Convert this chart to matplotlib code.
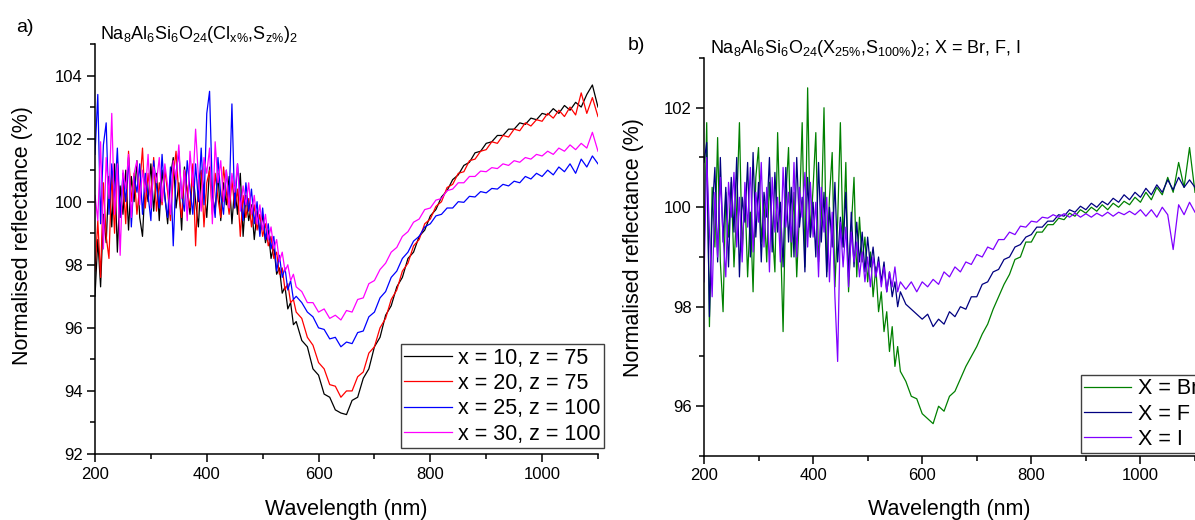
import matplotlib
matplotlib.use("Agg")
import matplotlib.pyplot as plt
from matplotlib.ticker import MultipleLocator

plt.rcParams['font.family'] = ['Liberation Sans', 'DejaVu Sans']
plt.rcParams['mathtext.default'] = 'regular'

######################### Data ############################
# wavelength grid (nm): 5 nm steps in the noisy UV part, 10 nm after
wavelength = list(range(200, 560, 5)) + list(range(560, 1101, 10))

# panel a) Na8Al6Si6O24(Clx%,Sz%)2
x10_z75 = [97.0, 98.8, 97.3, 99.6, 98.7, 100.8, 99.2, 101.2, 98.4, 100.5,
           99.6, 101.0, 99.1, 100.8, 100.0, 101.3, 99.5, 98.9, 100.7, 100.0,
           101.2, 99.7, 100.9, 99.4, 101.0, 100.2, 99.3, 100.8, 101.4, 99.8,
           100.6, 99.1, 101.1, 100.3, 99.6, 101.0, 100.0, 99.2, 100.9, 100.4,
           99.5, 101.1, 100.2, 99.7, 100.9, 99.4, 100.6, 99.9, 100.8, 99.3,
           100.5, 99.6, 100.9, 98.9, 100.2, 99.4, 99.9, 98.8, 99.7, 99.0,
           99.6, 98.7, 99.1, 98.2, 98.6, 97.7, 97.9, 97.1, 97.3, 96.6,
           96.8, 96.1,
           96.2, 95.6, 95.4, 94.7, 94.5, 93.9, 93.8, 93.4, 93.3, 93.25,
           93.7, 93.8, 94.4, 94.7, 95.4, 95.7, 96.4, 96.7, 97.3, 97.6,
           98.2, 98.4, 98.9, 99.1, 99.55, 99.75, 100.15, 100.35, 100.7, 100.85,
           101.15, 101.25, 101.55, 101.6, 101.85, 101.9, 102.1, 102.1, 102.3, 102.3,
           102.5, 102.45, 102.65, 102.6, 102.8, 102.75, 102.95, 102.8, 103.05, 102.9,
           103.15, 103.0, 103.4, 103.7, 103.0]
x20_z75 = [97.8, 99.4, 97.6, 100.6, 98.9, 98.2, 100.9, 99.0, 101.3, 99.5,
           100.7, 99.3, 101.6, 100.0, 100.9, 99.6, 100.5, 101.7, 99.8, 100.9,
           100.1, 101.4, 99.7, 100.6, 99.9, 101.0, 100.3, 99.4, 100.8, 101.6,
           100.2, 99.5, 101.0, 100.4, 99.8, 101.2, 98.6, 100.7, 101.0, 99.2,
           100.6, 101.0, 99.6, 100.9, 100.1, 99.5, 101.1, 100.3, 99.6, 100.7,
           99.8, 100.4, 98.9, 100.2, 99.5, 100.1, 99.2, 99.9, 99.1, 99.6,
           98.9, 99.3, 98.6, 98.9, 98.2, 98.4, 97.7, 97.9, 97.2, 97.4,
           96.8, 96.9,
           96.5, 96.3, 95.7, 95.45, 94.9, 94.7, 94.2, 94.15, 93.8, 94.0,
           94.0, 94.45, 94.6, 95.2, 95.4, 96.0, 96.3, 96.9, 97.2, 97.8,
           98.05, 98.6, 98.8, 99.3, 99.45, 99.85, 100.0, 100.45, 100.55, 100.9,
           100.95, 101.3, 101.35, 101.6, 101.65, 101.9, 101.85, 102.1, 102.05, 102.3,
           102.25, 102.5, 102.4, 102.6, 102.55, 102.8, 102.65, 102.9, 102.7, 103.0,
           102.75, 103.45, 102.8, 103.3, 102.7]
x25_z100 = [101.5, 103.4, 99.3, 101.8, 102.5, 99.6, 101.2, 100.1, 101.7, 99.5,
            100.9, 100.0, 101.4, 99.2, 100.8, 100.3, 101.2, 99.6, 100.9, 100.2,
            99.4, 101.3, 100.5, 99.8, 101.5, 100.1, 99.5, 101.1, 98.6, 100.9,
            101.6, 100.2, 99.7, 101.3, 100.4, 99.6, 101.2, 100.0, 101.7, 99.9,
            102.8, 103.5, 100.3, 99.5, 101.4, 100.2, 99.6, 101.0, 100.0, 103.1,
            99.8, 101.2, 100.1, 99.4, 100.6, 99.7, 100.4, 99.3, 100.0, 98.9,
            99.8, 98.8, 99.3, 98.5, 98.9, 97.8, 98.3, 97.6, 97.9, 97.2,
            97.5, 96.9,
            97.0, 96.8, 96.5, 96.35, 96.0, 95.95, 95.65, 95.7, 95.4, 95.55,
            95.5, 95.85, 95.9, 96.35, 96.5, 96.95, 97.15, 97.6, 97.8, 98.2,
            98.4, 98.75, 98.9, 99.2, 99.3, 99.55, 99.6, 99.8, 99.8, 100.0,
            99.98, 100.17, 100.15, 100.32, 100.28, 100.42, 100.4, 100.55, 100.5, 100.65,
            100.6, 100.8, 100.72, 100.9, 100.8, 101.0, 100.85, 101.1, 100.95, 101.2,
            100.9, 101.35, 101.1, 101.45, 101.2]
x30_z100 = [100.2, 99.4, 101.9, 98.5, 101.4, 100.1, 102.8, 99.6, 101.2, 98.3,
            101.0, 100.4, 101.5, 99.5, 100.9, 101.3, 99.9, 101.0, 100.3, 101.5,
            99.8, 101.1, 100.6, 101.4, 100.0, 101.2, 100.5, 99.6, 101.3, 100.7,
            101.8, 100.1, 101.0, 99.4, 101.6, 100.5, 102.3, 100.8, 99.7, 101.4,
            100.9, 101.7, 99.3, 101.9, 100.6, 101.3, 100.0, 101.0, 99.8, 100.9,
            100.3, 101.2, 99.7, 100.5, 99.9, 100.6, 99.6, 100.2, 99.3, 99.9,
            99.1, 99.6, 98.8, 99.2, 98.5, 98.8, 98.1, 98.4, 97.8, 98.0,
            97.5, 97.7,
            97.3, 97.15, 96.8, 96.8, 96.5, 96.6, 96.3, 96.4, 96.25, 96.55,
            96.5, 96.9, 96.95, 97.4, 97.5, 97.85, 98.05, 98.4, 98.55, 98.9,
            99.05, 99.35, 99.45, 99.75, 99.8, 100.05, 100.1, 100.35, 100.4, 100.6,
            100.6, 100.8, 100.8, 100.97, 100.95, 101.08, 101.05, 101.2, 101.15, 101.3,
            101.25, 101.4, 101.35, 101.5, 101.45, 101.6, 101.5, 101.7, 101.6, 101.8,
            101.65, 101.85, 101.7, 102.2, 101.6]

# panel b) Na8Al6Si6O24(X25%,S100%)2
x_br = [99.0, 101.7, 97.6, 100.4, 99.2, 101.4, 98.9, 97.9, 100.3, 99.4,
        100.5, 98.8, 100.0, 101.7, 99.1, 100.3, 98.6, 99.9, 98.3, 100.6,
        101.2, 99.3, 100.1, 98.9, 100.5, 99.6, 98.7, 101.5, 99.5, 97.5,
        100.2, 101.2, 99.0, 100.3, 98.6, 99.9, 101.7, 98.8, 102.4, 99.4,
        100.4, 101.5, 98.9, 99.8, 102.0, 98.7, 100.2, 101.1, 98.4, 99.7,
        101.7, 99.2, 100.9, 98.3, 99.6, 100.6, 98.6, 99.8, 98.9, 99.4,
        98.5, 99.1, 98.2, 98.8, 97.9, 98.3, 97.5, 97.9, 97.1, 97.6,
        96.8, 97.2,
        96.7, 96.5, 96.2, 96.15, 95.85, 95.75, 95.65, 96.0, 95.9, 96.2,
        96.3, 96.55, 96.8, 97.0, 97.2, 97.45, 97.65, 97.95, 98.2, 98.45,
        98.65, 98.95, 99.0, 99.3, 99.3, 99.5, 99.5, 99.65, 99.65, 99.78,
        99.75, 99.88, 99.82, 99.95, 99.88, 100.0, 99.92, 100.05, 99.95, 100.08,
        100.0, 100.12, 100.05, 100.2, 100.1, 100.3, 100.15, 100.4, 100.25, 100.6,
        100.3, 100.9, 100.4, 101.2, 100.3]
x_f = [100.9, 101.3, 97.8, 99.9, 100.8, 98.9, 101.0, 99.3, 100.4, 98.8,
       100.6, 99.5, 101.0, 98.6, 100.2, 99.7, 100.9, 99.0, 101.1, 99.4,
       100.5, 98.9, 100.3, 99.8, 101.0, 99.1, 100.7, 99.5, 100.1, 98.8,
       100.8, 99.3, 100.4, 99.0, 101.0, 99.6, 100.2, 98.7, 100.6, 99.4,
       100.1, 99.0, 100.9, 99.3, 100.3, 98.6, 100.0, 99.2, 100.5, 98.9,
       99.8, 99.2, 100.3, 98.6, 99.9, 98.8, 99.7, 98.9, 99.5, 98.7,
       99.4, 98.8, 99.2, 98.6, 99.0, 98.5, 98.9, 98.3, 98.7, 98.2,
       98.5, 98.0,
       98.3, 98.05, 97.95, 97.85, 97.75, 97.85, 97.6, 97.75, 97.65, 97.9,
       97.8, 98.0, 97.95, 98.2, 98.2, 98.45, 98.5, 98.7, 98.75, 98.95,
       99.0, 99.2, 99.25, 99.4, 99.45, 99.6, 99.6, 99.72, 99.72, 99.85,
       99.82, 99.95, 99.9, 100.02, 99.95, 100.08, 100.0, 100.12, 100.05, 100.18,
       100.1, 100.25, 100.15, 100.3, 100.2, 100.38, 100.25, 100.45, 100.3, 100.55,
       100.35, 100.6, 100.4, 100.55, 100.4]
x_i = [98.5, 101.0, 99.5, 98.2, 100.3, 99.0, 100.6, 99.4, 98.6, 100.5,
       99.8, 100.7, 99.2, 100.2, 98.9, 100.5, 99.6, 100.8, 99.1, 100.3,
       99.7, 100.9, 99.2, 100.4, 98.7, 100.6, 99.5, 100.2, 98.9, 100.8,
       99.6, 100.3, 99.3, 100.9, 99.0, 100.4, 99.8, 100.7, 99.2, 100.5,
       99.4, 100.1, 98.6, 100.4, 99.5, 100.2, 98.5, 99.9, 98.2, 96.9,
       99.7, 98.8, 99.6, 98.4, 99.5, 98.9, 99.3, 98.6, 99.1, 98.5,
       99.0, 98.4, 99.0, 98.6, 98.9, 98.4, 98.8, 98.3, 98.7, 98.4,
       98.8, 98.3,
       98.5, 98.35, 98.5, 98.3, 98.5, 98.4, 98.55, 98.45, 98.7, 98.6,
       98.8, 98.7, 98.9, 98.85, 99.05, 99.0, 99.2, 99.15, 99.35, 99.35,
       99.5, 99.45, 99.62, 99.6, 99.72, 99.7, 99.8, 99.78, 99.85, 99.8,
       99.87, 99.8, 99.88, 99.8, 99.87, 99.8, 99.88, 99.82, 99.9, 99.82,
       99.9, 99.85, 99.92, 99.85, 99.95, 99.82, 99.95, 99.8, 100.0, 99.85,
       99.15, 100.05, 99.85, 100.1, 99.9]

labels_a = ["x = 10, z = 75", "x = 20, z = 75", "x = 25, z = 100", "x = 30, z = 100"]
labels_b = ["X = Br", "X = F", "X = I"]
###########################################################


def style_axis(ax, y_major, y_minor):
    ax.spines['top'].set_visible(False)
    ax.spines['right'].set_visible(False)
    ax.spines['left'].set_linewidth(1.1)
    ax.spines['bottom'].set_linewidth(1.1)
    ax.xaxis.set_major_locator(MultipleLocator(200))
    ax.xaxis.set_minor_locator(MultipleLocator(100))
    ax.yaxis.set_major_locator(MultipleLocator(y_major))
    ax.yaxis.set_minor_locator(MultipleLocator(y_minor))
    ax.tick_params(which='major', direction='out', length=6, width=1.1,
                   labelsize=12, pad=3)
    ax.tick_params(which='minor', direction='out', length=3.5, width=1.1)
    ax.set_xlabel("Wavelength (nm)", fontsize=15.5)
    ax.set_ylabel("Normalised reflectance (%)", fontsize=15.5)


fig = plt.figure(figsize=(11.95, 5.2), dpi=100)

# panel a
ax1 = fig.add_axes([0.0795, 0.1269, 0.4209, 0.7885])
for series, colour, label in zip([x10_z75, x20_z75, x25_z100, x30_z100],
                                 ["black", "#FF0000", "#0000FF", "#FF00FF"],
                                 labels_a):
    ax1.plot(wavelength, series, color=colour, lw=0.9, label=label)
ax1.set_xlim(200, 1100)
ax1.set_ylim(92, 105)
style_axis(ax1, 2, 1)
ax1.yaxis.set_label_coords(-0.123, 0.532)
ax1.xaxis.set_label_coords(0.5, -0.11)
leg1 = ax1.legend(loc='lower right', bbox_to_anchor=(1.012, 0.015), fontsize=15.5,
                  frameon=True, fancybox=False, edgecolor='0.25', framealpha=1,
                  handlelength=2.2, handletextpad=0.3, labelspacing=0.2,
                  borderpad=0.15, borderaxespad=0)
leg1.get_frame().set_linewidth(1.0)

# panel b (cut off at the right edge, as in the original figure)
ax2 = fig.add_axes([0.5891, 0.1231, 0.4109, 0.7654])
for series, colour, label in zip([x_br, x_f, x_i],
                                 ["#008000", "#000080", "#8000FF"],
                                 labels_b):
    ax2.plot(wavelength, series, color=colour, lw=0.9, label=label)
ax2.set_xlim(200, 1100)
ax2.set_ylim(95, 103)
style_axis(ax2, 2, 1)
ax2.yaxis.set_label_coords(-0.122, 0.524)
ax2.xaxis.set_label_coords(0.5, -0.108)
leg2 = ax2.legend(loc='lower left', bbox_to_anchor=(0.767, 0.007), fontsize=15.5,
                  frameon=True, fancybox=False, edgecolor='0.25', framealpha=1,
                  handlelength=2.2, handletextpad=0.3, labelspacing=0.2,
                  borderpad=0.15, borderaxespad=0)
leg2.get_frame().set_linewidth(1.0)

# panel letters and titles
fig.text(16 / 1195, 1 - 32 / 520, "a)", fontsize=14, va='baseline')
fig.text(628 / 1195, 1 - 50 / 520, "b)", fontsize=14, va='baseline')
fig.text(100 / 1195, 1 - 39 / 520,
         r"Na$_8$Al$_6$Si$_6$O$_{24}$(Cl$_{x\%}$,S$_{z\%}$)$_2$",
         fontsize=13, va='baseline')
fig.text(710 / 1195, 1 - 53 / 520,
         r"Na$_8$Al$_6$Si$_6$O$_{24}$(X$_{25\%}$,S$_{100\%}$)$_2$; X = Br, F, I",
         fontsize=13, va='baseline')

fig.savefig("out.png", dpi=100)
